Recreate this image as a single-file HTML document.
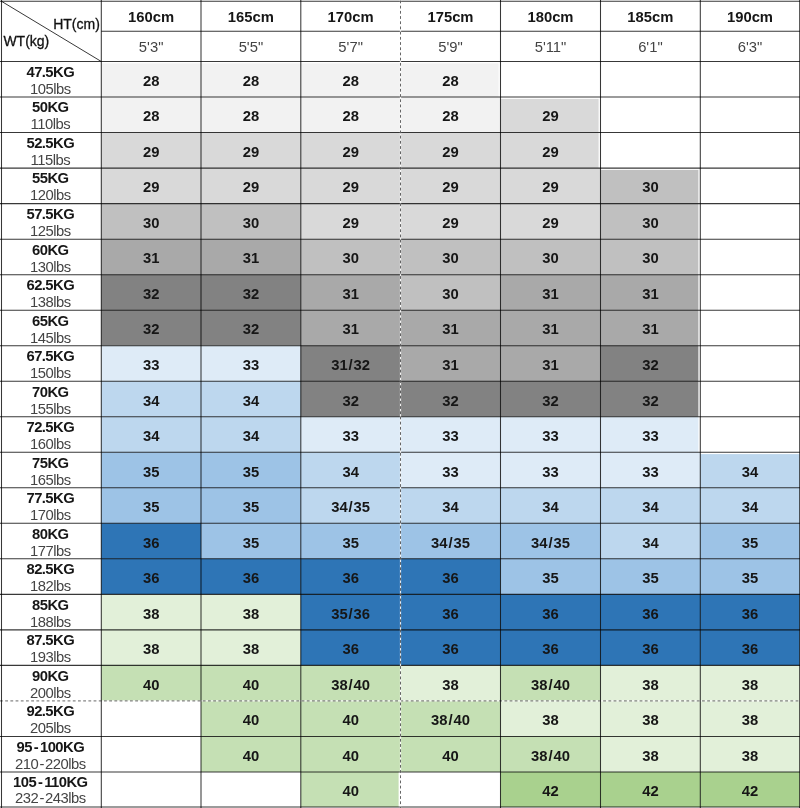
<!DOCTYPE html>
<html><head><meta charset="utf-8"><title>Size chart</title>
<style>
html,body{margin:0;padding:0;background:#fff;}
body{width:800px;height:808px;overflow:hidden;position:relative;font-family:"Liberation Sans",sans-serif;color:#161616;}
#c{position:absolute;left:0;top:0;width:800px;height:808px;overflow:hidden;background:#fff;}
.f{position:absolute;}
.t{position:absolute;text-align:center;white-space:nowrap;font-weight:bold;line-height:20px;height:20px;}
.r{font-weight:normal;color:#444;}
.sl{margin:0 0.9px;}.hy{margin:0 1.9px;}.hy2{margin:0 1.1px;}
.c{-webkit-text-stroke:0.3px #111;}
.lb{font-size:14.8px;letter-spacing:-0.55px;}
.lr{font-size:14.8px;letter-spacing:-0.5px;}
.hb{font-size:14.8px;letter-spacing:0px;}
.hr{font-size:14.8px;letter-spacing:0px;}
.d{font-size:14.8px;letter-spacing:0px;}
.c{font-size:14px;letter-spacing:0px;}
.hl{position:absolute;height:1.2px;background:#000;}
.vl{position:absolute;width:1.3px;background:#000;}
svg{position:absolute;left:0;top:0;}
</style></head><body><div id="c">

<svg width="800" height="808" viewBox="0 0 800 808"><g stroke="none"><rect x="101.3" y="63.3" width="99.7" height="33.7" fill="#f2f2f2"/><rect x="201.0" y="63.3" width="99.8" height="33.7" fill="#f2f2f2"/><rect x="300.8" y="63.3" width="99.7" height="33.7" fill="#f2f2f2"/><rect x="400.5" y="63.3" width="98.1" height="33.7" fill="#f2f2f2"/><rect x="101.3" y="97.1" width="99.7" height="35.5" fill="#f2f2f2"/><rect x="201.0" y="97.1" width="99.8" height="35.5" fill="#f2f2f2"/><rect x="300.8" y="97.1" width="99.7" height="35.5" fill="#f2f2f2"/><rect x="400.5" y="97.1" width="100.0" height="35.5" fill="#f2f2f2"/><rect x="500.5" y="98.9" width="98.1" height="33.7" fill="#d9d9d9"/><rect x="101.3" y="132.6" width="99.7" height="35.5" fill="#d9d9d9"/><rect x="201.0" y="132.6" width="99.8" height="35.5" fill="#d9d9d9"/><rect x="300.8" y="132.6" width="99.7" height="35.5" fill="#d9d9d9"/><rect x="400.5" y="132.6" width="100.0" height="35.5" fill="#d9d9d9"/><rect x="500.5" y="132.6" width="98.1" height="35.5" fill="#d9d9d9"/><rect x="101.3" y="168.1" width="99.7" height="35.5" fill="#d9d9d9"/><rect x="201.0" y="168.1" width="99.8" height="35.5" fill="#d9d9d9"/><rect x="300.8" y="168.1" width="99.7" height="35.5" fill="#d9d9d9"/><rect x="400.5" y="168.1" width="100.0" height="35.5" fill="#d9d9d9"/><rect x="500.5" y="168.1" width="100.0" height="35.5" fill="#d9d9d9"/><rect x="600.5" y="169.9" width="97.9" height="33.7" fill="#c0c0c0"/><rect x="101.3" y="203.6" width="99.7" height="35.5" fill="#c0c0c0"/><rect x="201.0" y="203.6" width="99.8" height="35.5" fill="#c0c0c0"/><rect x="300.8" y="203.6" width="99.7" height="35.5" fill="#d9d9d9"/><rect x="400.5" y="203.6" width="100.0" height="35.5" fill="#d9d9d9"/><rect x="500.5" y="203.6" width="100.0" height="35.5" fill="#d9d9d9"/><rect x="600.5" y="203.6" width="97.9" height="35.5" fill="#c0c0c0"/><rect x="101.3" y="239.2" width="99.7" height="35.5" fill="#a9a9a9"/><rect x="201.0" y="239.2" width="99.8" height="35.5" fill="#a9a9a9"/><rect x="300.8" y="239.2" width="99.7" height="35.5" fill="#c0c0c0"/><rect x="400.5" y="239.2" width="100.0" height="35.5" fill="#c0c0c0"/><rect x="500.5" y="239.2" width="100.0" height="35.5" fill="#c0c0c0"/><rect x="600.5" y="239.2" width="97.9" height="35.5" fill="#c0c0c0"/><rect x="101.3" y="274.7" width="99.7" height="35.5" fill="#828282"/><rect x="201.0" y="274.7" width="99.8" height="35.5" fill="#828282"/><rect x="300.8" y="274.7" width="99.7" height="35.5" fill="#a9a9a9"/><rect x="400.5" y="274.7" width="100.0" height="35.5" fill="#c0c0c0"/><rect x="500.5" y="274.7" width="100.0" height="35.5" fill="#a9a9a9"/><rect x="600.5" y="274.7" width="97.9" height="35.5" fill="#a9a9a9"/><rect x="101.3" y="310.2" width="99.7" height="35.5" fill="#828282"/><rect x="201.0" y="310.2" width="99.8" height="35.5" fill="#828282"/><rect x="300.8" y="310.2" width="99.7" height="35.5" fill="#a9a9a9"/><rect x="400.5" y="310.2" width="100.0" height="35.5" fill="#a9a9a9"/><rect x="500.5" y="310.2" width="100.0" height="35.5" fill="#a9a9a9"/><rect x="600.5" y="310.2" width="97.9" height="35.5" fill="#a9a9a9"/><rect x="101.3" y="345.7" width="99.7" height="35.5" fill="#deebf7"/><rect x="201.0" y="345.7" width="99.8" height="35.5" fill="#deebf7"/><rect x="300.8" y="345.7" width="99.7" height="35.5" fill="#828282"/><rect x="400.5" y="345.7" width="100.0" height="35.5" fill="#a9a9a9"/><rect x="500.5" y="345.7" width="100.0" height="35.5" fill="#a9a9a9"/><rect x="600.5" y="345.7" width="97.9" height="35.5" fill="#828282"/><rect x="101.3" y="381.2" width="99.7" height="35.5" fill="#bdd7ee"/><rect x="201.0" y="381.2" width="99.8" height="35.5" fill="#bdd7ee"/><rect x="300.8" y="381.2" width="99.7" height="35.5" fill="#828282"/><rect x="400.5" y="381.2" width="100.0" height="35.5" fill="#828282"/><rect x="500.5" y="381.2" width="100.0" height="35.5" fill="#828282"/><rect x="600.5" y="381.2" width="97.9" height="35.5" fill="#828282"/><rect x="101.3" y="416.8" width="99.7" height="35.5" fill="#bdd7ee"/><rect x="201.0" y="416.8" width="99.8" height="35.5" fill="#bdd7ee"/><rect x="300.8" y="416.8" width="99.7" height="35.5" fill="#deebf7"/><rect x="400.5" y="416.8" width="100.0" height="35.5" fill="#deebf7"/><rect x="500.5" y="416.8" width="100.0" height="35.5" fill="#deebf7"/><rect x="600.5" y="416.8" width="97.9" height="35.5" fill="#deebf7"/><rect x="101.3" y="452.3" width="99.7" height="35.5" fill="#9dc3e6"/><rect x="201.0" y="452.3" width="99.8" height="35.5" fill="#9dc3e6"/><rect x="300.8" y="452.3" width="99.7" height="35.5" fill="#bdd7ee"/><rect x="400.5" y="452.3" width="100.0" height="35.5" fill="#deebf7"/><rect x="500.5" y="452.3" width="100.0" height="35.5" fill="#deebf7"/><rect x="600.5" y="452.3" width="99.8" height="35.5" fill="#deebf7"/><rect x="700.3" y="454.1" width="99.4" height="33.7" fill="#bdd7ee"/><rect x="101.3" y="487.8" width="99.7" height="35.5" fill="#9dc3e6"/><rect x="201.0" y="487.8" width="99.8" height="35.5" fill="#9dc3e6"/><rect x="300.8" y="487.8" width="99.7" height="35.5" fill="#bdd7ee"/><rect x="400.5" y="487.8" width="100.0" height="35.5" fill="#bdd7ee"/><rect x="500.5" y="487.8" width="100.0" height="35.5" fill="#bdd7ee"/><rect x="600.5" y="487.8" width="99.8" height="35.5" fill="#bdd7ee"/><rect x="700.3" y="487.8" width="99.4" height="35.5" fill="#bdd7ee"/><rect x="101.3" y="523.3" width="99.7" height="35.5" fill="#2e75b6"/><rect x="201.0" y="523.3" width="99.8" height="35.5" fill="#9dc3e6"/><rect x="300.8" y="523.3" width="99.7" height="35.5" fill="#9dc3e6"/><rect x="400.5" y="523.3" width="100.0" height="35.5" fill="#9dc3e6"/><rect x="500.5" y="523.3" width="100.0" height="35.5" fill="#9dc3e6"/><rect x="600.5" y="523.3" width="99.8" height="35.5" fill="#bdd7ee"/><rect x="700.3" y="523.3" width="99.4" height="35.5" fill="#9dc3e6"/><rect x="101.3" y="558.8" width="99.7" height="35.5" fill="#2e75b6"/><rect x="201.0" y="558.8" width="99.8" height="35.5" fill="#2e75b6"/><rect x="300.8" y="558.8" width="99.7" height="35.5" fill="#2e75b6"/><rect x="400.5" y="558.8" width="100.0" height="35.5" fill="#2e75b6"/><rect x="500.5" y="558.8" width="100.0" height="35.5" fill="#9dc3e6"/><rect x="600.5" y="558.8" width="99.8" height="35.5" fill="#9dc3e6"/><rect x="700.3" y="558.8" width="99.4" height="35.5" fill="#9dc3e6"/><rect x="101.3" y="594.4" width="99.7" height="35.5" fill="#e2f0d9"/><rect x="201.0" y="594.4" width="99.8" height="35.5" fill="#e2f0d9"/><rect x="300.8" y="594.4" width="99.7" height="35.5" fill="#2e75b6"/><rect x="400.5" y="594.4" width="100.0" height="35.5" fill="#2e75b6"/><rect x="500.5" y="594.4" width="100.0" height="35.5" fill="#2e75b6"/><rect x="600.5" y="594.4" width="99.8" height="35.5" fill="#2e75b6"/><rect x="700.3" y="594.4" width="99.4" height="35.5" fill="#2e75b6"/><rect x="101.3" y="629.9" width="99.7" height="35.5" fill="#e2f0d9"/><rect x="201.0" y="629.9" width="99.8" height="35.5" fill="#e2f0d9"/><rect x="300.8" y="629.9" width="99.7" height="35.5" fill="#2e75b6"/><rect x="400.5" y="629.9" width="100.0" height="35.5" fill="#2e75b6"/><rect x="500.5" y="629.9" width="100.0" height="35.5" fill="#2e75b6"/><rect x="600.5" y="629.9" width="99.8" height="35.5" fill="#2e75b6"/><rect x="700.3" y="629.9" width="99.4" height="35.5" fill="#2e75b6"/><rect x="101.3" y="665.4" width="99.7" height="35.5" fill="#c5e0b4"/><rect x="201.0" y="665.4" width="99.8" height="35.5" fill="#c5e0b4"/><rect x="300.8" y="665.4" width="99.7" height="35.5" fill="#c5e0b4"/><rect x="400.5" y="665.4" width="100.0" height="35.5" fill="#e2f0d9"/><rect x="500.5" y="665.4" width="100.0" height="35.5" fill="#c5e0b4"/><rect x="600.5" y="665.4" width="99.8" height="35.5" fill="#e2f0d9"/><rect x="700.3" y="665.4" width="99.4" height="35.5" fill="#e2f0d9"/><rect x="201.0" y="700.9" width="99.8" height="35.5" fill="#c5e0b4"/><rect x="300.8" y="700.9" width="99.7" height="35.5" fill="#c5e0b4"/><rect x="400.5" y="700.9" width="100.0" height="35.5" fill="#c5e0b4"/><rect x="500.5" y="700.9" width="100.0" height="35.5" fill="#e2f0d9"/><rect x="600.5" y="700.9" width="99.8" height="35.5" fill="#e2f0d9"/><rect x="700.3" y="700.9" width="99.4" height="35.5" fill="#e2f0d9"/><rect x="201.0" y="736.4" width="99.8" height="35.5" fill="#c5e0b4"/><rect x="300.8" y="736.4" width="99.7" height="35.5" fill="#c5e0b4"/><rect x="400.5" y="736.4" width="100.0" height="35.5" fill="#c5e0b4"/><rect x="500.5" y="736.4" width="100.0" height="35.5" fill="#c5e0b4"/><rect x="600.5" y="736.4" width="99.8" height="35.5" fill="#e2f0d9"/><rect x="700.3" y="736.4" width="99.4" height="35.5" fill="#e2f0d9"/><rect x="300.8" y="772.0" width="97.8" height="35.0" fill="#c5e0b4"/><rect x="500.5" y="772.0" width="100.0" height="35.0" fill="#a9d18e"/><rect x="600.5" y="772.0" width="99.8" height="35.0" fill="#a9d18e"/><rect x="700.3" y="772.0" width="99.4" height="35.0" fill="#a9d18e"/></g><g fill="none" stroke="#000" stroke-opacity="0.78" stroke-width="1.05"><line x1="0.0" y1="1.30" x2="800" y2="1.30"/><line x1="101.3" y1="31.30" x2="800" y2="31.30"/><line x1="0.0" y1="61.55" x2="800" y2="61.55"/><line x1="0.0" y1="97.07" x2="800" y2="97.07"/><line x1="0.0" y1="132.59" x2="800" y2="132.59"/><line x1="0.0" y1="168.11" x2="800" y2="168.11"/><line x1="0.0" y1="203.63" x2="800" y2="203.63"/><line x1="0.0" y1="239.15" x2="800" y2="239.15"/><line x1="0.0" y1="274.67" x2="800" y2="274.67"/><line x1="0.0" y1="310.19" x2="800" y2="310.19"/><line x1="0.0" y1="345.71" x2="800" y2="345.71"/><line x1="0.0" y1="381.23" x2="800" y2="381.23"/><line x1="0.0" y1="416.75" x2="800" y2="416.75"/><line x1="0.0" y1="452.27" x2="800" y2="452.27"/><line x1="0.0" y1="487.79" x2="800" y2="487.79"/><line x1="0.0" y1="523.31" x2="800" y2="523.31"/><line x1="0.0" y1="558.83" x2="800" y2="558.83"/><line x1="0.0" y1="594.35" x2="800" y2="594.35"/><line x1="0.0" y1="629.87" x2="800" y2="629.87"/><line x1="0.0" y1="665.39" x2="800" y2="665.39"/><line x1="0" y1="700.91" x2="800" y2="700.91" stroke="#fff" stroke-opacity="0.85" stroke-width="1.2"/><line x1="0" y1="700.91" x2="800" y2="700.91" stroke="#000" stroke-opacity="0.6" stroke-width="1" stroke-dasharray="2.8 2.4"/><line x1="0.0" y1="736.43" x2="800" y2="736.43"/><line x1="0.0" y1="771.95" x2="800" y2="771.95"/><line x1="0.0" y1="807.00" x2="800" y2="807.00"/><line x1="1.50" y1="0" x2="1.50" y2="808"/><line x1="101.30" y1="0" x2="101.30" y2="808"/><line x1="201.00" y1="0" x2="201.00" y2="808"/><line x1="300.80" y1="0" x2="300.80" y2="808"/><line x1="400.50" y1="0" x2="400.50" y2="808" stroke="#fff" stroke-opacity="0.85" stroke-width="1.2"/><line x1="400.50" y1="0.5" x2="400.50" y2="808" stroke="#000" stroke-opacity="0.6" stroke-width="1" stroke-dasharray="2.8 2.4"/><line x1="500.50" y1="0" x2="500.50" y2="808"/><line x1="600.50" y1="0" x2="600.50" y2="808"/><line x1="700.30" y1="0" x2="700.30" y2="808"/><line x1="799.70" y1="0" x2="799.70" y2="808"/><line x1="1.5" y1="1.3" x2="101.3" y2="61.5" stroke-width="1"/></g></svg>
<div class="t c r" style="left:30.00px;top:13.55px;width:69.80px;text-align:right;color:#111">HT(cm)</div>
<div class="t c r" style="left:3.40px;top:30.95px;width:66.60px;text-align:left;color:#111">WT(kg)</div>
<div class="t hb " style="left:101.30px;top:6.57px;width:99.70px;">160cm</div>
<div class="t hr r" style="left:101.30px;top:36.67px;width:99.70px;">5'3&quot;</div>
<div class="t hb " style="left:201.00px;top:6.57px;width:99.80px;">165cm</div>
<div class="t hr r" style="left:201.00px;top:36.67px;width:99.80px;">5'5&quot;</div>
<div class="t hb " style="left:300.80px;top:6.57px;width:99.70px;">170cm</div>
<div class="t hr r" style="left:300.80px;top:36.67px;width:99.70px;">5'7&quot;</div>
<div class="t hb " style="left:400.50px;top:6.57px;width:100.00px;">175cm</div>
<div class="t hr r" style="left:400.50px;top:36.67px;width:100.00px;">5'9&quot;</div>
<div class="t hb " style="left:500.50px;top:6.57px;width:100.00px;">180cm</div>
<div class="t hr r" style="left:500.50px;top:36.67px;width:100.00px;">5'11&quot;</div>
<div class="t hb " style="left:600.50px;top:6.57px;width:99.80px;">185cm</div>
<div class="t hr r" style="left:600.50px;top:36.67px;width:99.80px;">6'1&quot;</div>
<div class="t hb " style="left:700.30px;top:6.57px;width:99.40px;">190cm</div>
<div class="t hr r" style="left:700.30px;top:36.67px;width:99.40px;">6'3&quot;</div>
<div class="t lb " style="left:0.42px;top:61.92px;width:99.80px;">47.5KG</div>
<div class="t lr r" style="left:0.45px;top:78.92px;width:99.80px;">105lbs</div>
<div class="t d " style="left:101.30px;top:70.82px;width:99.70px;">28</div>
<div class="t d " style="left:201.00px;top:70.82px;width:99.80px;">28</div>
<div class="t d " style="left:300.80px;top:70.82px;width:99.70px;">28</div>
<div class="t d " style="left:400.50px;top:70.82px;width:100.00px;">28</div>
<div class="t lb " style="left:0.42px;top:97.44px;width:99.80px;">50KG</div>
<div class="t lr r" style="left:0.45px;top:114.44px;width:99.80px;">110lbs</div>
<div class="t d " style="left:101.30px;top:106.34px;width:99.70px;">28</div>
<div class="t d " style="left:201.00px;top:106.34px;width:99.80px;">28</div>
<div class="t d " style="left:300.80px;top:106.34px;width:99.70px;">28</div>
<div class="t d " style="left:400.50px;top:106.34px;width:100.00px;">28</div>
<div class="t d " style="left:500.50px;top:106.34px;width:100.00px;">29</div>
<div class="t lb " style="left:0.42px;top:132.96px;width:99.80px;">52.5KG</div>
<div class="t lr r" style="left:0.45px;top:149.96px;width:99.80px;">115lbs</div>
<div class="t d " style="left:101.30px;top:141.86px;width:99.70px;">29</div>
<div class="t d " style="left:201.00px;top:141.86px;width:99.80px;">29</div>
<div class="t d " style="left:300.80px;top:141.86px;width:99.70px;">29</div>
<div class="t d " style="left:400.50px;top:141.86px;width:100.00px;">29</div>
<div class="t d " style="left:500.50px;top:141.86px;width:100.00px;">29</div>
<div class="t lb " style="left:0.42px;top:168.48px;width:99.80px;">55KG</div>
<div class="t lr r" style="left:0.45px;top:185.48px;width:99.80px;">120lbs</div>
<div class="t d " style="left:101.30px;top:177.38px;width:99.70px;">29</div>
<div class="t d " style="left:201.00px;top:177.38px;width:99.80px;">29</div>
<div class="t d " style="left:300.80px;top:177.38px;width:99.70px;">29</div>
<div class="t d " style="left:400.50px;top:177.38px;width:100.00px;">29</div>
<div class="t d " style="left:500.50px;top:177.38px;width:100.00px;">29</div>
<div class="t d " style="left:600.50px;top:177.38px;width:99.80px;">30</div>
<div class="t lb " style="left:0.42px;top:204.00px;width:99.80px;">57.5KG</div>
<div class="t lr r" style="left:0.45px;top:221.00px;width:99.80px;">125lbs</div>
<div class="t d " style="left:101.30px;top:212.90px;width:99.70px;">30</div>
<div class="t d " style="left:201.00px;top:212.90px;width:99.80px;">30</div>
<div class="t d " style="left:300.80px;top:212.90px;width:99.70px;">29</div>
<div class="t d " style="left:400.50px;top:212.90px;width:100.00px;">29</div>
<div class="t d " style="left:500.50px;top:212.90px;width:100.00px;">29</div>
<div class="t d " style="left:600.50px;top:212.90px;width:99.80px;">30</div>
<div class="t lb " style="left:0.42px;top:239.52px;width:99.80px;">60KG</div>
<div class="t lr r" style="left:0.45px;top:256.52px;width:99.80px;">130lbs</div>
<div class="t d " style="left:101.30px;top:248.42px;width:99.70px;">31</div>
<div class="t d " style="left:201.00px;top:248.42px;width:99.80px;">31</div>
<div class="t d " style="left:300.80px;top:248.42px;width:99.70px;">30</div>
<div class="t d " style="left:400.50px;top:248.42px;width:100.00px;">30</div>
<div class="t d " style="left:500.50px;top:248.42px;width:100.00px;">30</div>
<div class="t d " style="left:600.50px;top:248.42px;width:99.80px;">30</div>
<div class="t lb " style="left:0.42px;top:275.04px;width:99.80px;">62.5KG</div>
<div class="t lr r" style="left:0.45px;top:292.04px;width:99.80px;">138lbs</div>
<div class="t d " style="left:101.30px;top:283.94px;width:99.70px;">32</div>
<div class="t d " style="left:201.00px;top:283.94px;width:99.80px;">32</div>
<div class="t d " style="left:300.80px;top:283.94px;width:99.70px;">31</div>
<div class="t d " style="left:400.50px;top:283.94px;width:100.00px;">30</div>
<div class="t d " style="left:500.50px;top:283.94px;width:100.00px;">31</div>
<div class="t d " style="left:600.50px;top:283.94px;width:99.80px;">31</div>
<div class="t lb " style="left:0.42px;top:310.56px;width:99.80px;">65KG</div>
<div class="t lr r" style="left:0.45px;top:327.56px;width:99.80px;">145lbs</div>
<div class="t d " style="left:101.30px;top:319.46px;width:99.70px;">32</div>
<div class="t d " style="left:201.00px;top:319.46px;width:99.80px;">32</div>
<div class="t d " style="left:300.80px;top:319.46px;width:99.70px;">31</div>
<div class="t d " style="left:400.50px;top:319.46px;width:100.00px;">31</div>
<div class="t d " style="left:500.50px;top:319.46px;width:100.00px;">31</div>
<div class="t d " style="left:600.50px;top:319.46px;width:99.80px;">31</div>
<div class="t lb " style="left:0.42px;top:346.08px;width:99.80px;">67.5KG</div>
<div class="t lr r" style="left:0.45px;top:363.08px;width:99.80px;">150lbs</div>
<div class="t d " style="left:101.30px;top:354.98px;width:99.70px;">33</div>
<div class="t d " style="left:201.00px;top:354.98px;width:99.80px;">33</div>
<div class="t d " style="left:300.80px;top:354.98px;width:99.70px;">31<span class="sl">/</span>32</div>
<div class="t d " style="left:400.50px;top:354.98px;width:100.00px;">31</div>
<div class="t d " style="left:500.50px;top:354.98px;width:100.00px;">31</div>
<div class="t d " style="left:600.50px;top:354.98px;width:99.80px;">32</div>
<div class="t lb " style="left:0.42px;top:381.60px;width:99.80px;">70KG</div>
<div class="t lr r" style="left:0.45px;top:398.60px;width:99.80px;">155lbs</div>
<div class="t d " style="left:101.30px;top:390.50px;width:99.70px;">34</div>
<div class="t d " style="left:201.00px;top:390.50px;width:99.80px;">34</div>
<div class="t d " style="left:300.80px;top:390.50px;width:99.70px;">32</div>
<div class="t d " style="left:400.50px;top:390.50px;width:100.00px;">32</div>
<div class="t d " style="left:500.50px;top:390.50px;width:100.00px;">32</div>
<div class="t d " style="left:600.50px;top:390.50px;width:99.80px;">32</div>
<div class="t lb " style="left:0.42px;top:417.12px;width:99.80px;">72.5KG</div>
<div class="t lr r" style="left:0.45px;top:434.12px;width:99.80px;">160lbs</div>
<div class="t d " style="left:101.30px;top:426.02px;width:99.70px;">34</div>
<div class="t d " style="left:201.00px;top:426.02px;width:99.80px;">34</div>
<div class="t d " style="left:300.80px;top:426.02px;width:99.70px;">33</div>
<div class="t d " style="left:400.50px;top:426.02px;width:100.00px;">33</div>
<div class="t d " style="left:500.50px;top:426.02px;width:100.00px;">33</div>
<div class="t d " style="left:600.50px;top:426.02px;width:99.80px;">33</div>
<div class="t lb " style="left:0.42px;top:452.64px;width:99.80px;">75KG</div>
<div class="t lr r" style="left:0.45px;top:469.64px;width:99.80px;">165lbs</div>
<div class="t d " style="left:101.30px;top:461.54px;width:99.70px;">35</div>
<div class="t d " style="left:201.00px;top:461.54px;width:99.80px;">35</div>
<div class="t d " style="left:300.80px;top:461.54px;width:99.70px;">34</div>
<div class="t d " style="left:400.50px;top:461.54px;width:100.00px;">33</div>
<div class="t d " style="left:500.50px;top:461.54px;width:100.00px;">33</div>
<div class="t d " style="left:600.50px;top:461.54px;width:99.80px;">33</div>
<div class="t d " style="left:700.30px;top:461.54px;width:99.40px;">34</div>
<div class="t lb " style="left:0.42px;top:488.16px;width:99.80px;">77.5KG</div>
<div class="t lr r" style="left:0.45px;top:505.16px;width:99.80px;">170lbs</div>
<div class="t d " style="left:101.30px;top:497.06px;width:99.70px;">35</div>
<div class="t d " style="left:201.00px;top:497.06px;width:99.80px;">35</div>
<div class="t d " style="left:300.80px;top:497.06px;width:99.70px;">34<span class="sl">/</span>35</div>
<div class="t d " style="left:400.50px;top:497.06px;width:100.00px;">34</div>
<div class="t d " style="left:500.50px;top:497.06px;width:100.00px;">34</div>
<div class="t d " style="left:600.50px;top:497.06px;width:99.80px;">34</div>
<div class="t d " style="left:700.30px;top:497.06px;width:99.40px;">34</div>
<div class="t lb " style="left:0.42px;top:523.68px;width:99.80px;">80KG</div>
<div class="t lr r" style="left:0.45px;top:540.68px;width:99.80px;">177lbs</div>
<div class="t d " style="left:101.30px;top:532.58px;width:99.70px;">36</div>
<div class="t d " style="left:201.00px;top:532.58px;width:99.80px;">35</div>
<div class="t d " style="left:300.80px;top:532.58px;width:99.70px;">35</div>
<div class="t d " style="left:400.50px;top:532.58px;width:100.00px;">34<span class="sl">/</span>35</div>
<div class="t d " style="left:500.50px;top:532.58px;width:100.00px;">34<span class="sl">/</span>35</div>
<div class="t d " style="left:600.50px;top:532.58px;width:99.80px;">34</div>
<div class="t d " style="left:700.30px;top:532.58px;width:99.40px;">35</div>
<div class="t lb " style="left:0.42px;top:559.20px;width:99.80px;">82.5KG</div>
<div class="t lr r" style="left:0.45px;top:576.20px;width:99.80px;">182lbs</div>
<div class="t d " style="left:101.30px;top:568.10px;width:99.70px;">36</div>
<div class="t d " style="left:201.00px;top:568.10px;width:99.80px;">36</div>
<div class="t d " style="left:300.80px;top:568.10px;width:99.70px;">36</div>
<div class="t d " style="left:400.50px;top:568.10px;width:100.00px;">36</div>
<div class="t d " style="left:500.50px;top:568.10px;width:100.00px;">35</div>
<div class="t d " style="left:600.50px;top:568.10px;width:99.80px;">35</div>
<div class="t d " style="left:700.30px;top:568.10px;width:99.40px;">35</div>
<div class="t lb " style="left:0.42px;top:594.72px;width:99.80px;">85KG</div>
<div class="t lr r" style="left:0.45px;top:611.72px;width:99.80px;">188lbs</div>
<div class="t d " style="left:101.30px;top:603.62px;width:99.70px;">38</div>
<div class="t d " style="left:201.00px;top:603.62px;width:99.80px;">38</div>
<div class="t d " style="left:300.80px;top:603.62px;width:99.70px;">35<span class="sl">/</span>36</div>
<div class="t d " style="left:400.50px;top:603.62px;width:100.00px;">36</div>
<div class="t d " style="left:500.50px;top:603.62px;width:100.00px;">36</div>
<div class="t d " style="left:600.50px;top:603.62px;width:99.80px;">36</div>
<div class="t d " style="left:700.30px;top:603.62px;width:99.40px;">36</div>
<div class="t lb " style="left:0.42px;top:630.24px;width:99.80px;">87.5KG</div>
<div class="t lr r" style="left:0.45px;top:647.24px;width:99.80px;">193lbs</div>
<div class="t d " style="left:101.30px;top:639.14px;width:99.70px;">38</div>
<div class="t d " style="left:201.00px;top:639.14px;width:99.80px;">38</div>
<div class="t d " style="left:300.80px;top:639.14px;width:99.70px;">36</div>
<div class="t d " style="left:400.50px;top:639.14px;width:100.00px;">36</div>
<div class="t d " style="left:500.50px;top:639.14px;width:100.00px;">36</div>
<div class="t d " style="left:600.50px;top:639.14px;width:99.80px;">36</div>
<div class="t d " style="left:700.30px;top:639.14px;width:99.40px;">36</div>
<div class="t lb " style="left:0.42px;top:665.76px;width:99.80px;">90KG</div>
<div class="t lr r" style="left:0.45px;top:682.76px;width:99.80px;">200lbs</div>
<div class="t d " style="left:101.30px;top:674.66px;width:99.70px;">40</div>
<div class="t d " style="left:201.00px;top:674.66px;width:99.80px;">40</div>
<div class="t d " style="left:300.80px;top:674.66px;width:99.70px;">38<span class="sl">/</span>40</div>
<div class="t d " style="left:400.50px;top:674.66px;width:100.00px;">38</div>
<div class="t d " style="left:500.50px;top:674.66px;width:100.00px;">38<span class="sl">/</span>40</div>
<div class="t d " style="left:600.50px;top:674.66px;width:99.80px;">38</div>
<div class="t d " style="left:700.30px;top:674.66px;width:99.40px;">38</div>
<div class="t lb " style="left:0.42px;top:701.28px;width:99.80px;">92.5KG</div>
<div class="t lr r" style="left:0.45px;top:718.28px;width:99.80px;">205lbs</div>
<div class="t d " style="left:201.00px;top:710.18px;width:99.80px;">40</div>
<div class="t d " style="left:300.80px;top:710.18px;width:99.70px;">40</div>
<div class="t d " style="left:400.50px;top:710.18px;width:100.00px;">38<span class="sl">/</span>40</div>
<div class="t d " style="left:500.50px;top:710.18px;width:100.00px;">38</div>
<div class="t d " style="left:600.50px;top:710.18px;width:99.80px;">38</div>
<div class="t d " style="left:700.30px;top:710.18px;width:99.40px;">38</div>
<div class="t lb " style="left:0.42px;top:736.80px;width:99.80px;">95<span class="hy">-</span>100KG</div>
<div class="t lr r" style="left:0.45px;top:753.80px;width:99.80px;">210<span class="hy2">-</span>220lbs</div>
<div class="t d " style="left:201.00px;top:745.70px;width:99.80px;">40</div>
<div class="t d " style="left:300.80px;top:745.70px;width:99.70px;">40</div>
<div class="t d " style="left:400.50px;top:745.70px;width:100.00px;">40</div>
<div class="t d " style="left:500.50px;top:745.70px;width:100.00px;">38<span class="sl">/</span>40</div>
<div class="t d " style="left:600.50px;top:745.70px;width:99.80px;">38</div>
<div class="t d " style="left:700.30px;top:745.70px;width:99.40px;">38</div>
<div class="t lb " style="left:0.42px;top:772.32px;width:99.80px;">105<span class="hy">-</span>110KG</div>
<div class="t lr r" style="left:0.45px;top:788.02px;width:99.80px;">232<span class="hy2">-</span>243lbs</div>
<div class="t d " style="left:300.80px;top:781.22px;width:99.70px;">40</div>
<div class="t d " style="left:500.50px;top:781.22px;width:100.00px;">42</div>
<div class="t d " style="left:600.50px;top:781.22px;width:99.80px;">42</div>
<div class="t d " style="left:700.30px;top:781.22px;width:99.40px;">42</div>
</div></body></html>
